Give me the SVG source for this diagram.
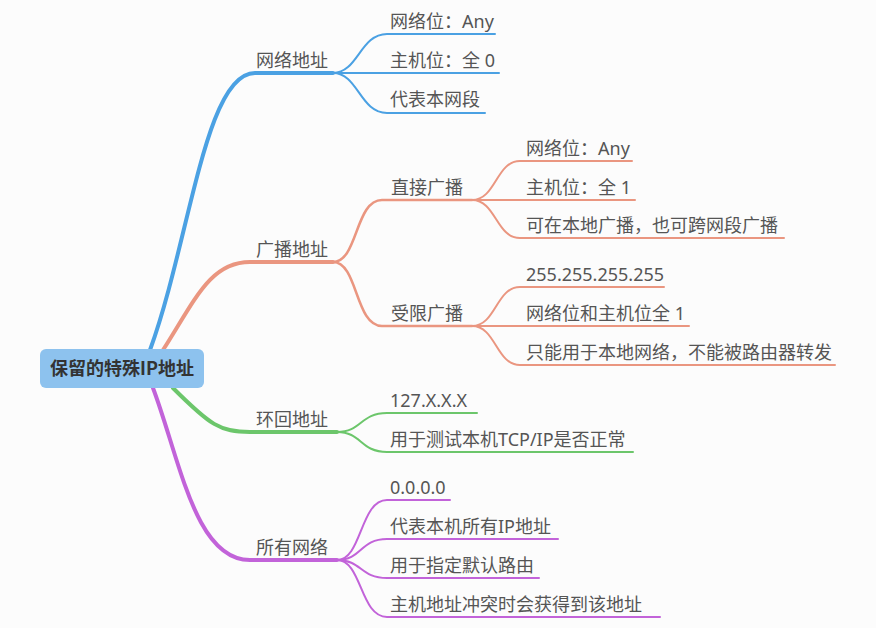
<svg xmlns="http://www.w3.org/2000/svg" width="876" height="628" viewBox="0 0 876 628">
<style>
text{font-family:"Noto Sans","Noto Sans CJK SC",sans-serif;font-size:18px;fill:#555}
.root{font-family:"Noto Sans CJK SC","Noto Sans",sans-serif;font-weight:bold;fill:#333}
path{fill:none;stroke-linecap:round}
.b{stroke:#4ba1e3}.o{stroke:#ea9680}.g{stroke:#6cc66b}.p{stroke:#c263d9}
.w1{stroke-width:4}.w2{stroke-width:2.6}.w3{stroke-width:2}
</style>
<rect width="876" height="628" fill="#fcfcfc"/>
<g id="connectors">
<path class="b w1" d="M150,350 C190,240 205,73 255,73 H333"/>
<path class="o w1" d="M163,350 C195,300 210,262 250,262 H333"/>
<path class="g w1" d="M173,388 C210,425 220,432 250,432 H337"/>
<path class="p w1" d="M153,388 C180,460 195,560 250,560 H337"/>
<path class="b w3" d="M333,73 C358,73 360,34 387,34 H495"/>
<path class="b w3" d="M333,73 H499"/>
<path class="b w3" d="M333,73 C358,73 360,113 387,113 H485"/>
<path class="o w2" d="M333,262 C358,262 355,200 382,200 H472"/>
<path class="o w2" d="M333,262 C358,262 355,326 382,326 H472"/>
<path class="o w3" d="M472,200 C496,200 496,161 520,161 H632"/>
<path class="o w3" d="M472,200 H635"/>
<path class="o w3" d="M472,200 C496,200 496,238 520,238 H784"/>
<path class="o w3" d="M472,326 C496,326 496,287 520,287 H664"/>
<path class="o w3" d="M472,326 H689"/>
<path class="o w3" d="M472,326 C496,326 496,365 520,365 H835"/>
<path class="g w3" d="M337,432 C362,432 360,413 387,413 H477"/>
<path class="g w3" d="M337,432 C362,432 360,452 387,452 H633"/>
<path class="p w3" d="M337,560 C362,560 360,500 387,500 H450"/>
<path class="p w3" d="M337,560 C362,560 360,539 387,539 H558"/>
<path class="p w3" d="M337,560 C362,560 360,578 387,578 H539"/>
<path class="p w3" d="M337,560 C362,560 360,617 387,617 H660"/>
</g>
<g id="root">
<rect x="40" y="349" width="164" height="39" rx="6" fill="#8dc2ee"/>
<text class="root" x="122" y="375" text-anchor="middle">保留的特殊IP地址</text>
</g>
<g id="n-net"><text x="256" y="67">网络地址</text></g>
<g id="n-net-1"><text x="390" y="28">网络位：Any</text></g>
<g id="n-net-2"><text x="390" y="67">主机位：全 0</text></g>
<g id="n-net-3"><text x="390" y="106">代表本网段</text></g>
<g id="n-bc"><text x="256" y="256">广播地址</text></g>
<g id="n-bc-d"><text x="391" y="194">直接广播</text></g>
<g id="n-bc-d-1"><text x="526" y="155">网络位：Any</text></g>
<g id="n-bc-d-2"><text x="526" y="194">主机位：全 1</text></g>
<g id="n-bc-d-3"><text x="526" y="232">可在本地广播，也可跨网段广播</text></g>
<g id="n-bc-l"><text x="391" y="320">受限广播</text></g>
<g id="n-bc-l-1"><text x="526" y="281">255.255.255.255</text></g>
<g id="n-bc-l-2"><text x="526" y="320">网络位和主机位全 1</text></g>
<g id="n-bc-l-3"><text x="526" y="359">只能用于本地网络，不能被路由器转发</text></g>
<g id="n-lo"><text x="256" y="426">环回地址</text></g>
<g id="n-lo-1"><text x="390" y="407">127.X.X.X</text></g>
<g id="n-lo-2"><text x="390" y="446">用于测试本机TCP/IP是否正常</text></g>
<g id="n-all"><text x="256" y="554">所有网络</text></g>
<g id="n-all-1"><text x="390" y="494">0.0.0.0</text></g>
<g id="n-all-2"><text x="390" y="533">代表本机所有IP地址</text></g>
<g id="n-all-3"><text x="390" y="572">用于指定默认路由</text></g>
<g id="n-all-4"><text x="390" y="611">主机地址冲突时会获得到该地址</text></g>
</svg>
